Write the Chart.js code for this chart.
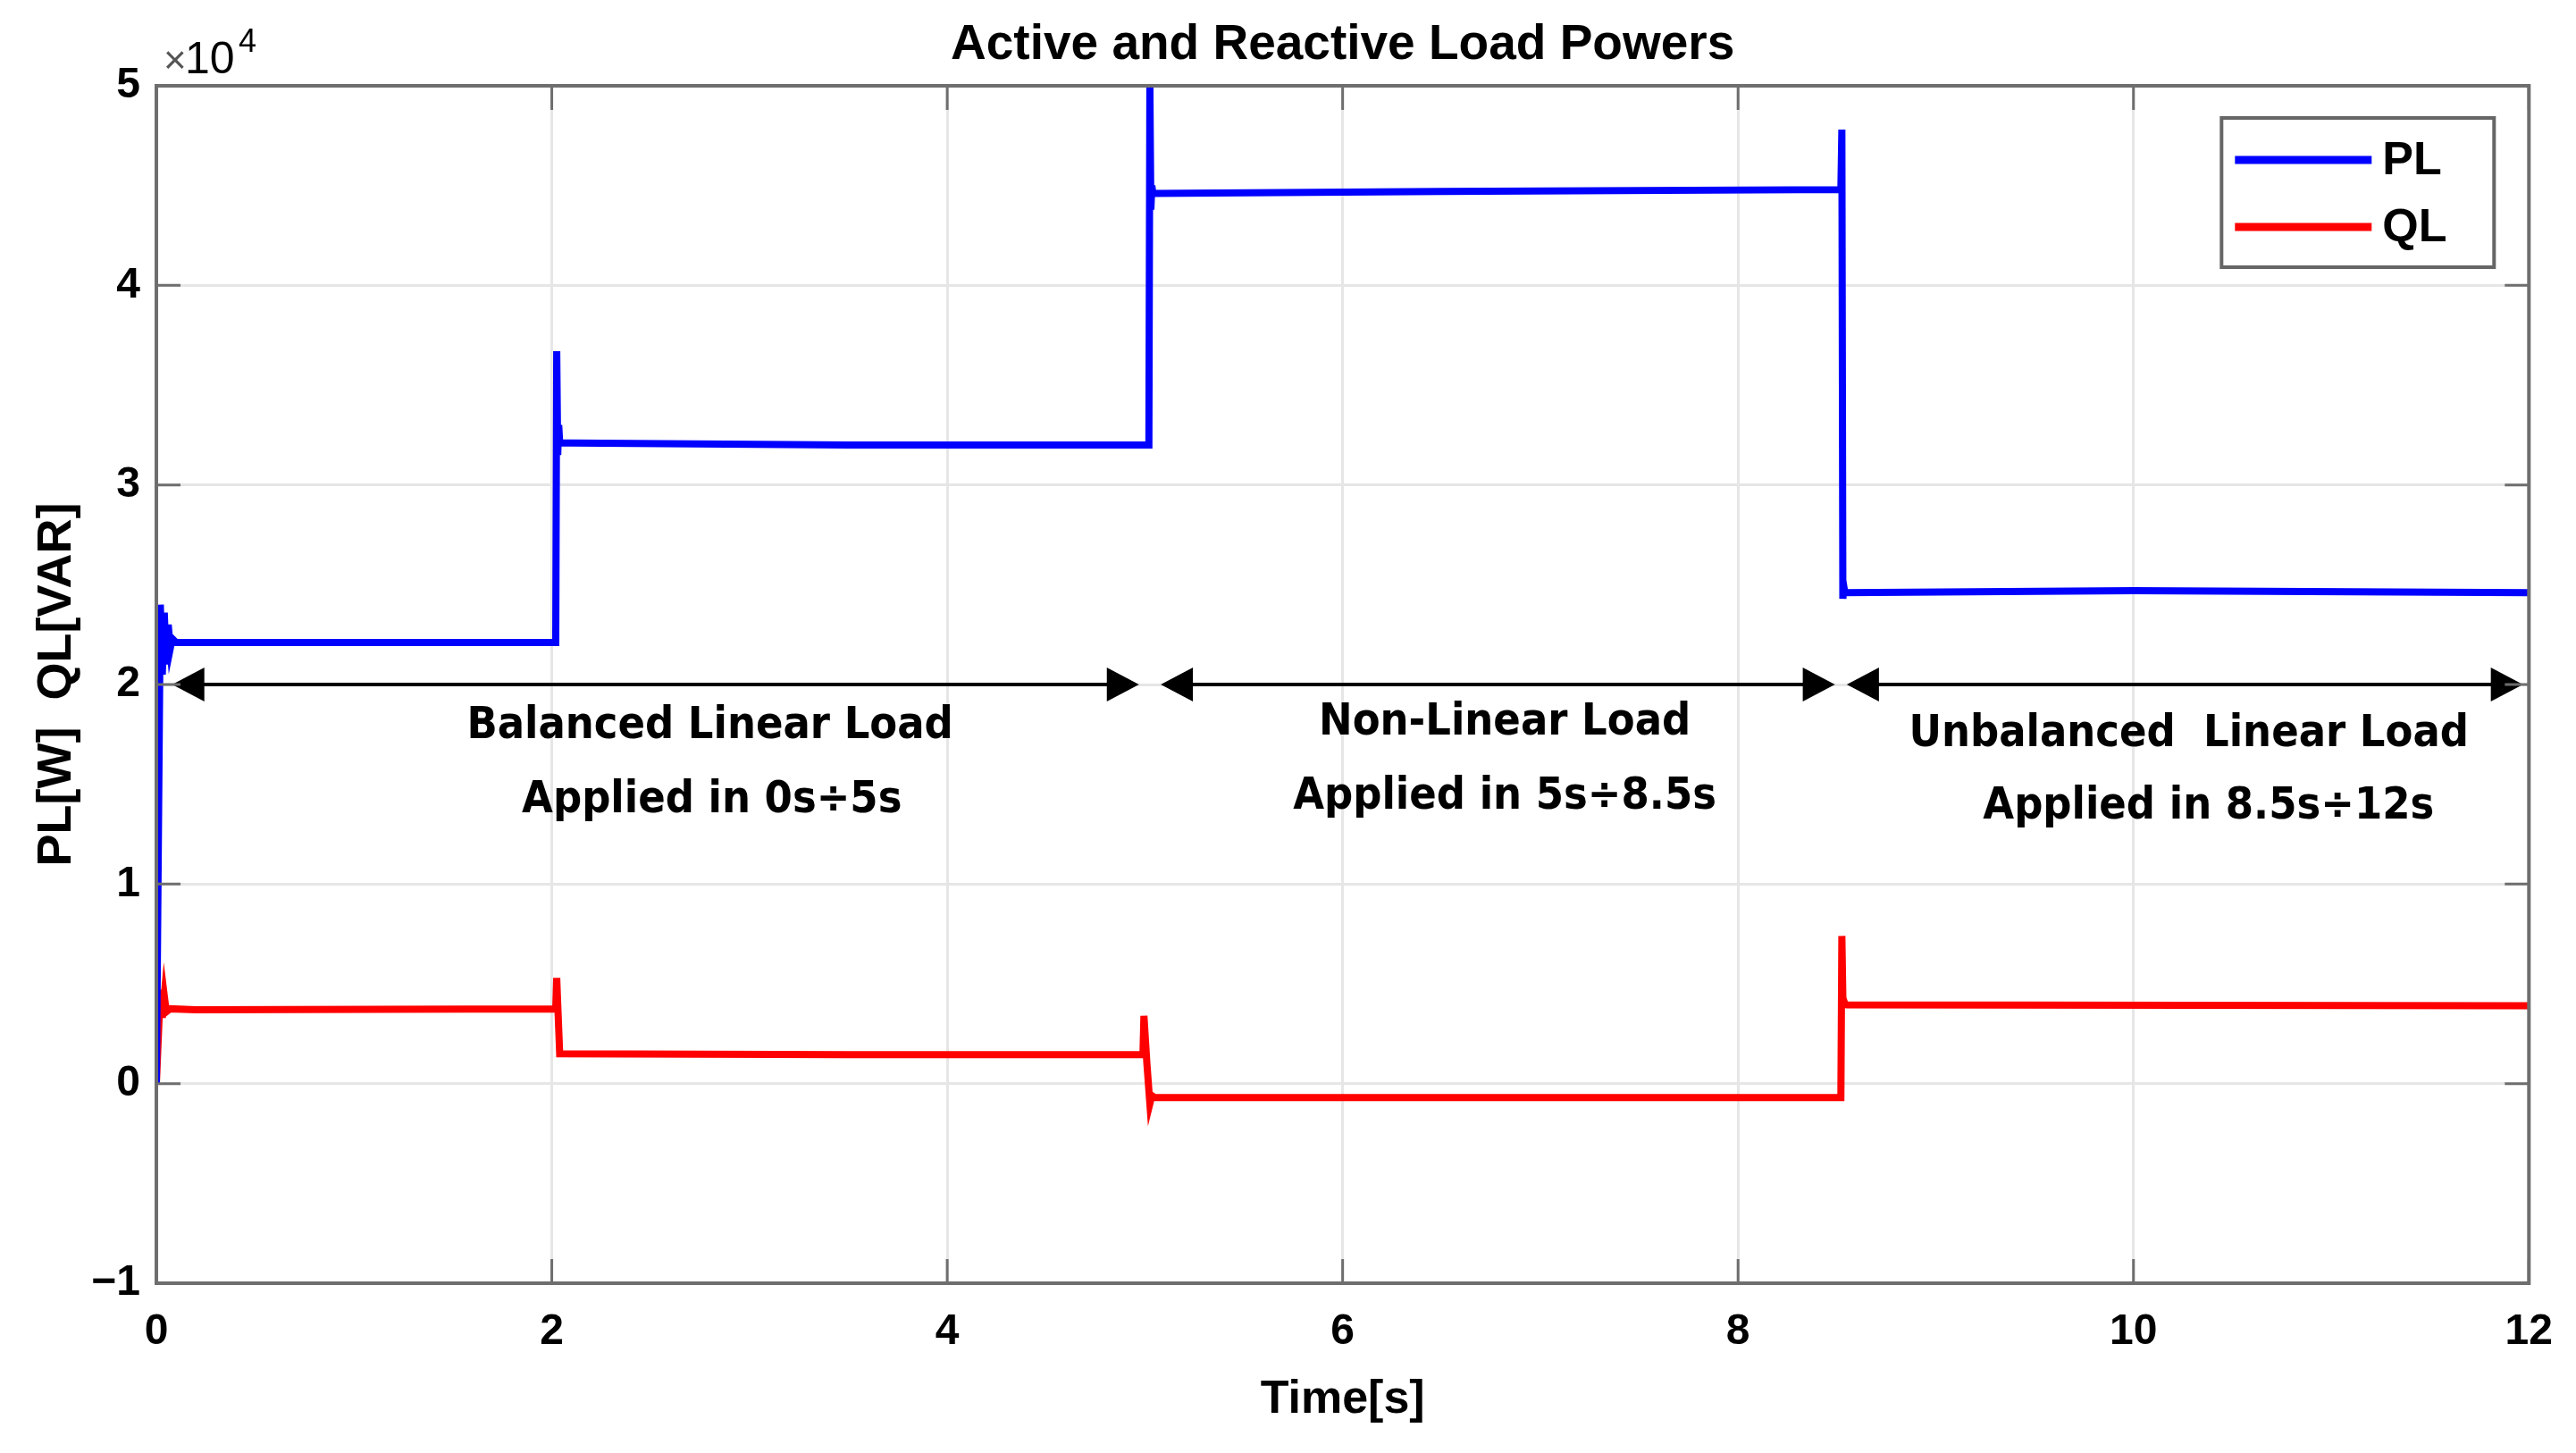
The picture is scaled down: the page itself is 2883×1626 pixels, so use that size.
<!DOCTYPE html>
<html>
<head>
<style>
  html, body { margin: 0; padding: 0; background: #fff; }
</style>
</head>
<body>
<script src="https://cdn.jsdelivr.net/npm/chart.js"></script>
<canvas id="myChart" width="2883" height="1626"></canvas>

<script>
// values (time in s, power in W / VAR)
const plTime  = [0, 0.02, 0.03, 0.04, 0.05, 0.06, 0.07, 0.08, 0.1, 1.0, 2.02, 2.025, 2.03, 2.035, 2.04, 2.1, 3.5, 5.02, 5.025, 5.03, 5.035, 5.04, 6.5, 8.52, 8.525, 8.53, 8.535, 8.54, 10, 12];
const plValue = [0, 24000, 20500, 23600, 21000, 23000, 21800, 22300, 22100, 22100, 22100, 36700, 31500, 33000, 32100, 32100, 32000, 32000, 50000, 43800, 45000, 44600, 44700, 44800, 47800, 24300, 24900, 24600, 24700, 24600];

const qlTime  = [0, 0.02, 0.03, 0.04, 0.05, 0.07, 0.2, 2.02, 2.025, 2.03, 2.04, 2.05, 3.5, 4.99, 4.995, 5.01, 5.025, 5.035, 5.05, 8.52, 8.525, 8.53, 8.54, 8.55, 12];
const qlValue = [0, 4700, 3300, 4400, 3600, 3750, 3700, 3750, 5300, 4000, 1500, 1500, 1450, 1450, 3400, 1000, -1000, -600, -700, -700, 7400, 4300, 4000, 3950, 3900];

const xTicks = [0, 2, 4, 6, 8, 10, 12];
const yTicks = [-10000, 0, 10000, 20000, 30000, 40000, 50000];

// double headed arrows at 2x10^4
const arrowLevel = 20000;
const arrowSpans = [[0.08, 4.97], [5.08, 8.49], [8.55, 11.97]];

const noteText = ['Balanced Linear Load', 'Applied in 0s\u00f75s', 'Non-Linear Load', 'Applied in 5s\u00f78.5s', 'Unbalanced  Linear Load', 'Applied in 8.5s\u00f712s'];
const noteX = [2.80, 2.81, 6.82, 6.82, 10.28, 10.38];
const noteY = [17890, 14170, 18070, 14350, 17490, 13860];

const sansFont = "'Liberation Sans', Arial, sans-serif";
const noteFont = "'DejaVu Sans Condensed', 'DejaVu Sans', sans-serif";

function toPoints(ts, vs) {
  return ts.map((t, i) => ({ x: t, y: vs[i] }));
}

function arrowHead(ctx, x, y, dir) {
  ctx.beginPath();
  ctx.moveTo(x, y);
  ctx.lineTo(x + dir * 36, y - 19);
  ctx.lineTo(x + dir * 36, y + 19);
  ctx.closePath();
  ctx.fill();
}

// box, inward ticks, arrows, notes, legend and exponent like the MATLAB figure
const matlabLook = {
  id: 'matlabLook',
  afterDatasetsDraw(chart) {
    const ctx = chart.ctx;
    const a = chart.chartArea;
    const xs = chart.scales.x, ys = chart.scales.y;
    ctx.save();

    // arrows
    const ay = ys.getPixelForValue(arrowLevel);
    ctx.strokeStyle = '#000';
    ctx.fillStyle = '#000';
    ctx.lineWidth = 4;
    arrowSpans.forEach(function(s) {
      const x0 = xs.getPixelForValue(s[0]);
      const x1 = xs.getPixelForValue(s[1]);
      ctx.beginPath();
      ctx.moveTo(x0 + 30, ay);
      ctx.lineTo(x1 - 30, ay);
      ctx.stroke();
      arrowHead(ctx, x0, ay, 1);
      arrowHead(ctx, x1, ay, -1);
    });

    // notes
    ctx.font = 'bold 50px ' + noteFont;
    ctx.textAlign = 'center';
    ctx.textBaseline = 'middle';
    noteText.forEach(function(txt, i) {
      ctx.fillText(txt, xs.getPixelForValue(noteX[i]), ys.getPixelForValue(noteY[i]));
    });

    // frame and inward ticks
    ctx.strokeStyle = '#6e6e6e';
    ctx.lineWidth = 3;
    ctx.beginPath();
    xTicks.forEach(function(v) {
      const px = xs.getPixelForValue(v);
      ctx.moveTo(px, a.bottom); ctx.lineTo(px, a.bottom - 27);
      ctx.moveTo(px, a.top); ctx.lineTo(px, a.top + 27);
    });
    yTicks.forEach(function(v) {
      const py = ys.getPixelForValue(v);
      ctx.moveTo(a.left, py); ctx.lineTo(a.left + 27, py);
      ctx.moveTo(a.right, py); ctx.lineTo(a.right - 27, py);
    });
    ctx.stroke();
    ctx.lineWidth = 4;
    ctx.strokeRect(a.left, a.top, a.right - a.left, a.bottom - a.top);

    // legend
    const lx = a.right - 344, ly = a.top + 36;
    ctx.fillStyle = '#fff';
    ctx.fillRect(lx, ly, 305, 167);
    ctx.strokeStyle = '#666';
    ctx.lineWidth = 4;
    ctx.strokeRect(lx, ly, 305, 167);
    ctx.textAlign = 'left';
    ctx.font = 'bold 52px ' + sansFont;
    chart.data.datasets.forEach(function(ds, i) {
      const yy = ly + 47 + i * 75;
      ctx.strokeStyle = ds.borderColor;
      ctx.lineWidth = 9;
      ctx.beginPath();
      ctx.moveTo(lx + 15, yy);
      ctx.lineTo(lx + 168, yy);
      ctx.stroke();
      ctx.fillStyle = '#000';
      ctx.fillText(ds.label, lx + 180, yy + 2);
    });

    // x10^4 exponent
    ctx.textBaseline = 'alphabetic';
    ctx.fillStyle = '#555';
    ctx.font = '44px ' + sansFont;
    ctx.fillText('\u00d7', a.left + 8, a.top - 14);
    ctx.fillStyle = '#000';
    ctx.font = '50px ' + sansFont;
    ctx.fillText('10', a.left + 32, a.top - 14);
    ctx.font = '36px ' + sansFont;
    ctx.fillText('4', a.left + 92, a.top - 38);

    ctx.restore();
  }
};

const data = {
  datasets: [{
    label: 'PL',
    data: toPoints(plTime, plValue),
    borderColor: '#0000ff',
    backgroundColor: '#0000ff',
    borderWidth: 8,
    pointRadius: 0,
    tension: 0
  }, {
    label: 'QL',
    data: toPoints(qlTime, qlValue),
    borderColor: '#ff0000',
    backgroundColor: '#ff0000',
    borderWidth: 8,
    pointRadius: 0,
    tension: 0
  }]
};

const config = {
  type: 'line',
  data: data,
  plugins: [matlabLook],
  options: {
    responsive: false,
    animation: false,
    layout: { padding: { left: 0, right: 46, top: 0, bottom: 0 } },
    plugins: {
      legend: { display: false },
      tooltip: { enabled: false },
      title: {
        display: true,
        fullSize: false,
        text: 'Active and Reactive Load Powers',
        color: '#000',
        font: { family: sansFont, size: 55, weight: 'bold' },
        padding: { top: 18, bottom: 12 }
      }
    },
    scales: {
      x: {
        type: 'linear',
        min: 0,
        max: 12,
        afterBuildTicks: function(s) { s.ticks = xTicks.map(v => ({ value: v })); },
        afterFit: function(s) { s.height = 190; },
        grid: { color: '#e6e6e6', lineWidth: 3, drawTicks: false },
        border: { display: false },
        ticks: {
          padding: 26,
          color: '#000',
          maxRotation: 0,
          font: { family: sansFont, size: 48, weight: 'bold' }
        },
        title: {
          display: true,
          text: 'Time[s]',
          color: '#000',
          font: { family: sansFont, size: 52, weight: 'bold' },
          padding: { top: 0, bottom: 28 }
        }
      },
      y: {
        min: -10000,
        max: 50000,
        afterBuildTicks: function(s) { s.ticks = yTicks.map(v => ({ value: v })); },
        afterFit: function(s) { s.width = 175; },
        grid: { color: '#e6e6e6', lineWidth: 3, drawTicks: false },
        border: { display: false },
        ticks: {
          padding: 18,
          color: '#000',
          font: { family: sansFont, size: 48, weight: 'bold' },
          callback: function(v) {
            const n = v / 10000;
            return n < 0 ? '\u2212' + Math.abs(n) : String(n);
          }
        },
        title: {
          display: true,
          text: 'PL[W]  QL[VAR]',
          color: '#000',
          font: { family: sansFont, size: 54, weight: 'bold' },
          padding: { top: 32, bottom: 0 }
        }
      }
    }
  }
};

const myChart = new Chart(document.getElementById('myChart'), config);
</script>
</body>
</html>
